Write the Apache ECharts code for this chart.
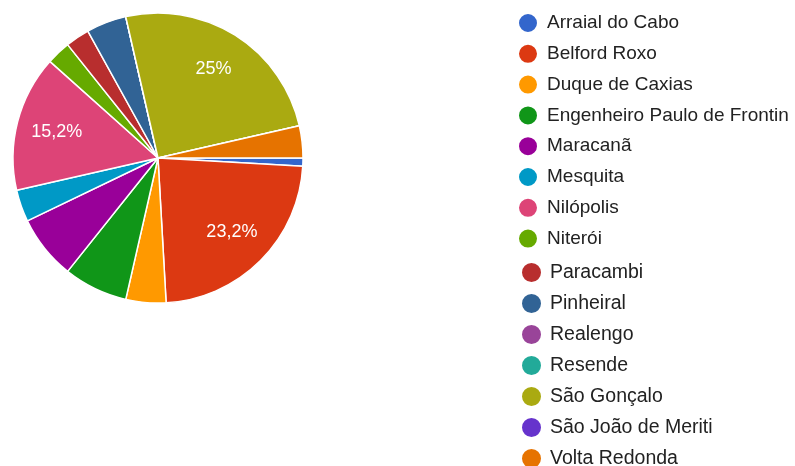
<!DOCTYPE html>
<html>
<head>
<meta charset="utf-8">
<script src="https://cdn.jsdelivr.net/npm/echarts@6/dist/echarts.min.js"></script>
<style>
  html, body { margin: 0; padding: 0; background: #fff; }
  #chart { width: 795px; height: 466px; }
</style>
</head>
<body>
<div id="chart"></div>
<script>
// Response counts per city
const cities = [
  'Arraial do Cabo', 'Belford Roxo', 'Duque de Caxias', 'Engenheiro Paulo de Frontin',
  'Maracanã', 'Mesquita', 'Nilópolis', 'Niterói', 'Paracambi', 'Pinheiral',
  'Realengo', 'Resende', 'São Gonçalo', 'São João de Meriti', 'Volta Redonda'
];
const counts = [1, 26, 5, 8, 8, 4, 17, 3, 3, 5, 0, 0, 28, 0, 4];
const palette = [
  '#3366cc', '#dc3912', '#ff9900', '#109618', '#990099', '#0099c6', '#dd4477',
  '#66aa00', '#b82e2e', '#316395', '#994499', '#22aa99', '#aaaa11', '#6633cc', '#e67300'
];

const total = counts.reduce((a, b) => a + b, 0);
const FONT = 'Arial, "Liberation Sans", sans-serif';

function pctText(v) {
  const p = Math.round(v / total * 1000) / 10;
  return String(p).replace('.', ',') + '%';
}

const sliceData = cities.map((name, i) => ({
  name, value: counts[i], itemStyle: { color: palette[i] }
}));

// transparent ring on top carrying the percentage labels further out
const labelData = cities.map((name, i) => ({
  name, value: counts[i],
  label: { show: counts[i] / total >= 0.1 }
}));

const legendItem = (name, i) => ({ name, itemStyle: { color: palette[i] } });

const chart = echarts.init(document.getElementById('chart'), null, { renderer: 'canvas' });
chart.setOption({
  animation: false,
  color: palette,
  legend: [
    {
      orient: 'vertical', left: 517, top: 12, height: 400, padding: 0,
      icon: 'circle', itemWidth: 20, itemHeight: 20, itemGap: 8.8,
      selectedMode: false,
      textStyle: { fontFamily: FONT, fontSize: 19, lineHeight: 20, color: '#222', padding: [0, 0, 0, 4] },
      data: cities.slice(0, 8).map((n, i) => legendItem(n, i))
    },
    {
      orient: 'vertical', left: 520, top: 261, height: 400, padding: 0,
      icon: 'circle', itemWidth: 21, itemHeight: 21, itemGap: 8.0,
      selectedMode: false,
      textStyle: { fontFamily: FONT, fontSize: 19.5, lineHeight: 20, color: '#222', padding: [0, 0, 0, 3] },
      data: cities.slice(8).map((n, i) => legendItem(n, i + 8))
    }
  ],
  series: [
    {
      type: 'pie',
      center: [158, 158],
      radius: 145,
      startAngle: 0,
      clockwise: true,
      avoidLabelOverlap: false,
      label: { show: false },
      labelLine: { show: false },
      itemStyle: { borderColor: '#fff', borderWidth: 1.5 },
      emphasis: { disabled: true },
      data: sliceData
    },
    {
      type: 'pie',
      center: [158, 158],
      radius: [58, 145],
      startAngle: 0,
      clockwise: true,
      silent: true,
      avoidLabelOverlap: false,
      itemStyle: { color: 'rgba(0,0,0,0)', borderWidth: 0 },
      label: {
        position: 'inside',
        color: '#fff',
        fontFamily: FONT,
        fontSize: 18,
        formatter: p => pctText(p.value)
      },
      labelLine: { show: false },
      emphasis: { disabled: true },
      data: labelData
    }
  ]
});
</script>
</body>
</html>
